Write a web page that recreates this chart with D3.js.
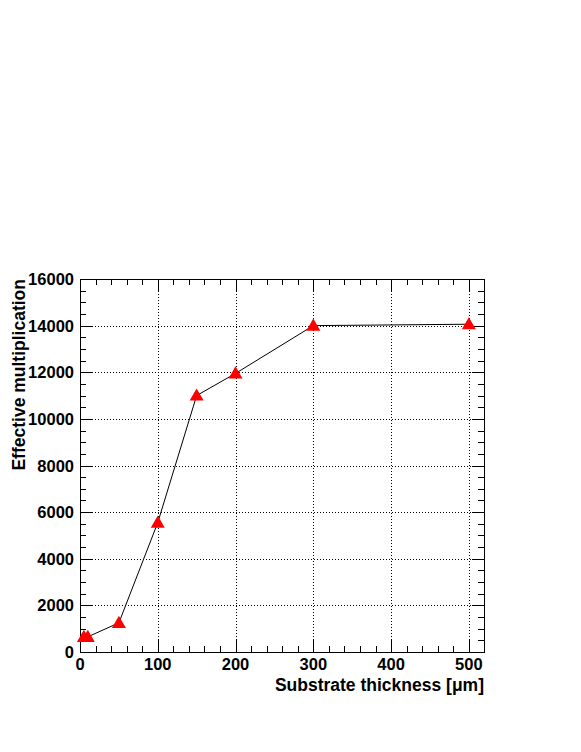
<!DOCTYPE html>
<html><head><meta charset="utf-8">
<script src="https://cdn.jsdelivr.net/npm/d3@7"></script>
<style>body{margin:0;background:#fff}svg{display:block}text{font-family:"Liberation Sans",Arial,sans-serif;font-weight:bold}</style>
</head><body><svg id="c" width="581" height="752"></svg>
<script>
const thickness = [5, 10, 50, 100, 150, 200, 300, 500];
const multiplication = [650, 650, 1250, 5550, 11000, 11950, 14000, 14060];
const xTicks = [0, 100, 200, 300, 400, 500];
const yTicks = [0, 2000, 4000, 6000, 8000, 10000, 12000, 14000, 16000];
const xTitle = "Substrate thickness [\u03bcm]";
const yTitle = "Effective multiplication";

const svg = d3.select("#c");
const L = 80, R = 484, T = 279, B = 652;
const x = d3.scaleLinear().domain([0, 519.5]).range([L, R]);
const y = d3.scaleLinear().domain([0, 16000]).range([B, T]);

// grid
const g = svg.append("g");
g.selectAll(".gx").data(xTicks.filter(d => d > 0)).enter().append("line")
  .attr("x1", d => Math.round(x(d)) + 0.5).attr("x2", d => Math.round(x(d)) + 0.5)
  .attr("y1", T).attr("y2", B).attr("stroke", "#000").attr("stroke-width", 1).attr("stroke-dasharray", "1,2");
g.selectAll(".gy").data(yTicks.filter(d => d > 0 && d < 16000)).enter().append("line")
  .attr("y1", d => Math.round(y(d)) + 0.5).attr("y2", d => Math.round(y(d)) + 0.5)
  .attr("x1", L).attr("x2", R).attr("stroke", "#000").attr("stroke-width", 1).attr("stroke-dasharray", "1,2");

// axes with ticks (ROOT style: inward)
const xMinor = d3.range(0, 520, 20);
const yMinor = d3.range(0, 16001, 500);
function tickLen(v, major) { return major.includes(v) ? 12 : 6; }
const ax = svg.append("g").attr("stroke", "#000").attr("stroke-width", 1);
xMinor.forEach(v => {
  const px = Math.round(x(v)) + 0.5, len = tickLen(v, xTicks);
  ax.append("line").attr("x1", px).attr("x2", px).attr("y1", B).attr("y2", B - len);
  ax.append("line").attr("x1", px).attr("x2", px).attr("y1", T).attr("y2", T + len);
});
yMinor.forEach(v => {
  const py = Math.round(y(v)) + 0.5, len = tickLen(v, yTicks);
  ax.append("line").attr("y1", py).attr("y2", py).attr("x1", L).attr("x2", L + len);
  ax.append("line").attr("y1", py).attr("y2", py).attr("x1", R).attr("x2", R - len);
});
svg.append("rect").attr("x", L + 0.5).attr("y", T + 0.5).attr("width", R - L).attr("height", B - T)
  .attr("fill", "none").attr("stroke", "#000").attr("stroke-width", 1);

// tick labels
svg.selectAll(".xl").data(xTicks).enter().append("text")
  .attr("x", d => x(d)).attr("y", 670).attr("text-anchor", "middle").attr("font-size", 16.5).text(d => d);
svg.selectAll(".yl").data(yTicks).enter().append("text")
  .attr("x", 74).attr("y", d => y(d) + 6).attr("text-anchor", "end").attr("font-size", 16.5).text(d => d);

// titles
svg.append("text").attr("x", R).attr("y", 691).attr("text-anchor", "end").attr("font-size", 17.5).text(xTitle);
svg.append("text").attr("transform", `translate(25,${T}) rotate(-90)`).attr("text-anchor", "end")
  .attr("font-size", 17.5).text(yTitle);

// line
const pts = thickness.map((t, i) => [t, multiplication[i]]);
svg.append("path").datum(pts).attr("fill", "none").attr("stroke", "#000").attr("stroke-width", 1)
  .attr("d", d3.line().x(d => x(d[0])).y(d => y(d[1])));

// markers
const tri = d3.symbol().type(d3.symbolTriangle).size(85);
svg.selectAll(".m").data(pts).enter().append("path")
  .attr("transform", d => `translate(${x(d[0])},${y(d[1]) + 1})`).attr("d", tri).attr("fill", "#ff0000");
</script></body></html>
